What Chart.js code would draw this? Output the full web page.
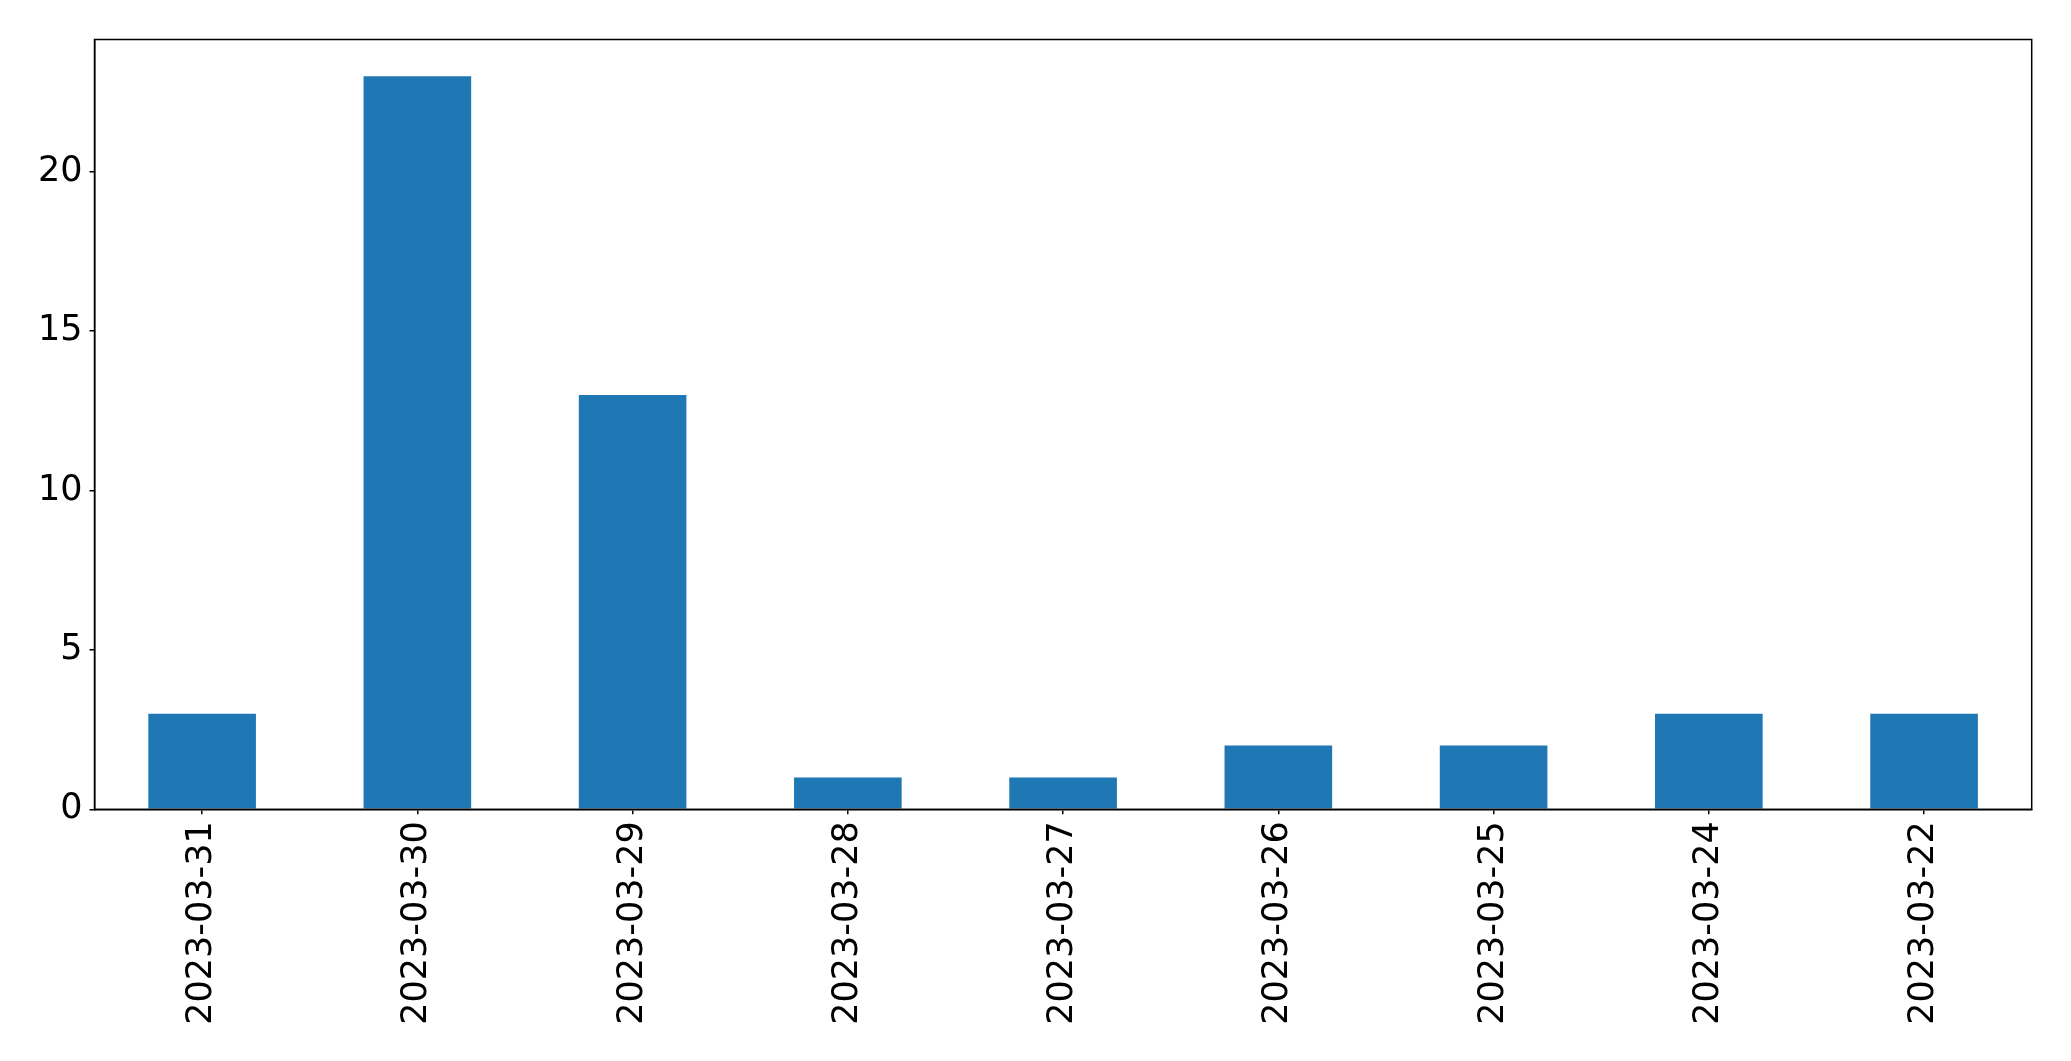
<!DOCTYPE html>
<html>
<head>
<meta charset="utf-8">
<script src="https://cdn.jsdelivr.net/npm/chart.js@4"></script>
<style>
  body { margin: 0; background: #fff; }
  #wrap { width: 2071px; height: 1061px; }
</style>
</head>
<body>
<div id="wrap"><canvas id="bar-chart"></canvas></div>
<script>
const dates = [
  "2023-03-31",
  "2023-03-30",
  "2023-03-29",
  "2023-03-28",
  "2023-03-27",
  "2023-03-26",
  "2023-03-25",
  "2023-03-24",
  "2023-03-22",
];
const counts = [3, 23, 13, 1, 1, 2, 2, 3, 3];
const yTicks = [0, 5, 10, 15, 20];

// draw the box round the plot, like matplotlib's spines
const frameBox = {
  id: "frameBox",
  afterDraw(chart) {
    const a = chart.chartArea;
    const ctx = chart.ctx;
    ctx.save();
    ctx.strokeStyle = "#000";
    ctx.lineWidth = 1.5;
    ctx.strokeRect(a.left, a.top, a.right - a.left, a.bottom - a.top);
    ctx.restore();
  }
};

const font = { family: "DejaVu Sans", size: 35 };

new Chart(document.getElementById("bar-chart"), {
  type: "bar",
  data: {
    labels: dates,
    datasets: [
      {
        data: counts,
        backgroundColor: "#1f77b4",
        categoryPercentage: 1,
        barPercentage: 0.5,
      }
    ]
  },
  plugins: [frameBox],
  options: {
    responsive: true,
    maintainAspectRatio: false,
    animation: false,
    layout: { padding: { left: 0, top: 39.5, right: 39.3, bottom: 0 } },
    plugins: { legend: { display: false }, tooltip: { enabled: false } },
    scales: {
      x: {
        grid: { offset: false, drawOnChartArea: false, drawTicks: true, tickLength: 5, color: "#000", lineWidth: 1.5 },
        border: { display: true, color: "#000", width: 1.5 },
        ticks: { color: "#000", font: font, minRotation: 90, maxRotation: 90, padding: 7, autoSkip: false },
        afterFit(scale) { scale.height = 251.7; }
      },
      y: {
        min: 0,
        max: 24.15,
        grid: { drawOnChartArea: false, drawTicks: true, tickLength: 5, color: "#000", lineWidth: 1.5 },
        border: { display: true, color: "#000", width: 1.5 },
        ticks: { color: "#000", font: font, stepSize: 5, padding: 7 },
        afterBuildTicks(scale) { scale.ticks = yTicks.map(v => ({ value: v })); },
        afterFit(scale) { scale.width = 94.5; }
      }
    }
  }
});
</script>
</body>
</html>
